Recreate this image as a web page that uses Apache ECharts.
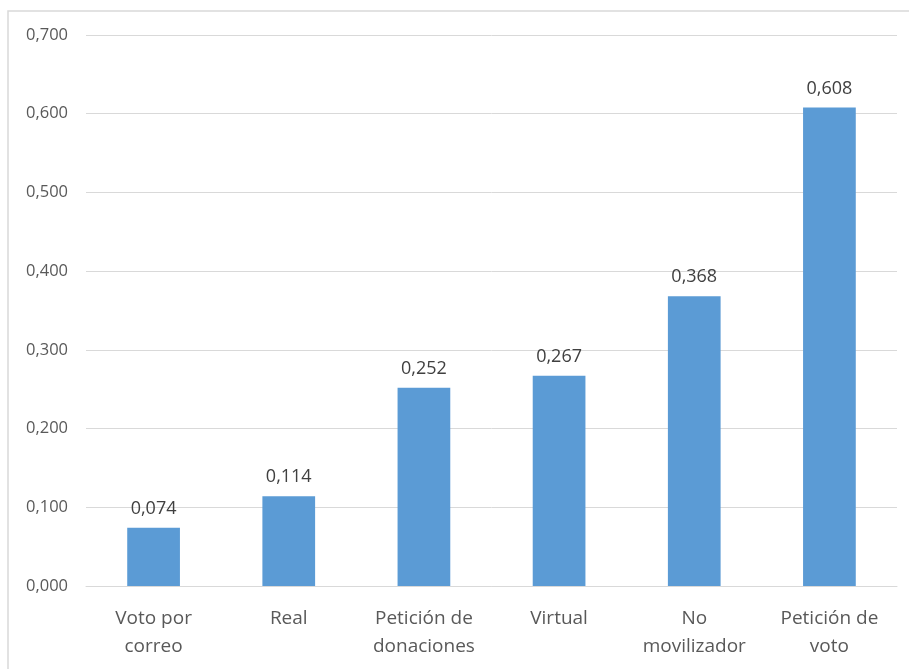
<!DOCTYPE html>
<html lang="es">
<head>
	<meta charset="UTF-8">
	<title>Gráfico de barras</title>
	<script src="https://cdn.jsdelivr.net/npm/echarts@6/dist/echarts.min.js"></script>
	<style type="text/css">
		html, body { margin: 0; padding: 0; background: #fff; }
	</style>
</head>
<body>
     <div id="main" style="width:909px;height:669px;"></div>
<script type="text/javascript">
    var categories = ["Voto por\ncorreo", "Real", "Petición de\ndonaciones", "Virtual", "No\nmovilizador", "Petición de\nvoto"];
    var values = [0.074, 0.114, 0.252, 0.267, 0.368, 0.608];
    var yTicks = [0, 0.1, 0.2, 0.3, 0.4, 0.5, 0.6, 0.7];

    function fmt(v) {
        return v.toFixed(3).replace('.', ',');
    }

    var myChart = echarts.init(document.getElementById('main'));
    var font = '"Open Sans", "Noto Sans", sans-serif';
    var option = {
        animation: false,
        textStyle: { fontFamily: font },
        graphic: [{
            type: 'rect',
            shape: { x: 8, y: 11, width: 960, height: 720 },
            style: { fill: 'none', stroke: '#d9d9d9', lineWidth: 1.5 },
            silent: true
        }],
        grid: { left: 86, right: 12, top: 35, bottom: 83 },
        xAxis: {
            type: 'category',
            data: categories,
            axisLine: { lineStyle: { color: '#d9d9d9' } },
            axisTick: { show: false },
            axisLabel: {
                color: '#595959', fontSize: 19, lineHeight: 28, margin: 19,
                fontFamily: font
            }
        },
        yAxis: {
            type: 'value',
            min: yTicks[0],
            max: yTicks[yTicks.length - 1],
            interval: 0.1,
            axisLine: { show: false },
            axisTick: { show: false },
            splitLine: { lineStyle: { color: '#d9d9d9' } },
            axisLabel: {
                color: '#595959', fontSize: 16.5, margin: 18,
                fontFamily: font,
                formatter: function (v) { return fmt(v); }
            }
        },
        series: [{
            type: 'bar',
            data: values,
            barWidth: '39%',
            itemStyle: { color: '#5b9bd5' },
            label: {
                show: true,
                position: 'top',
                distance: 10,
                color: '#404040',
                fontSize: 18,
                fontFamily: font,
                formatter: function (p) { return fmt(p.value); }
            }
        }]
    };
    myChart.setOption(option);
</script>
</body>
</html>
